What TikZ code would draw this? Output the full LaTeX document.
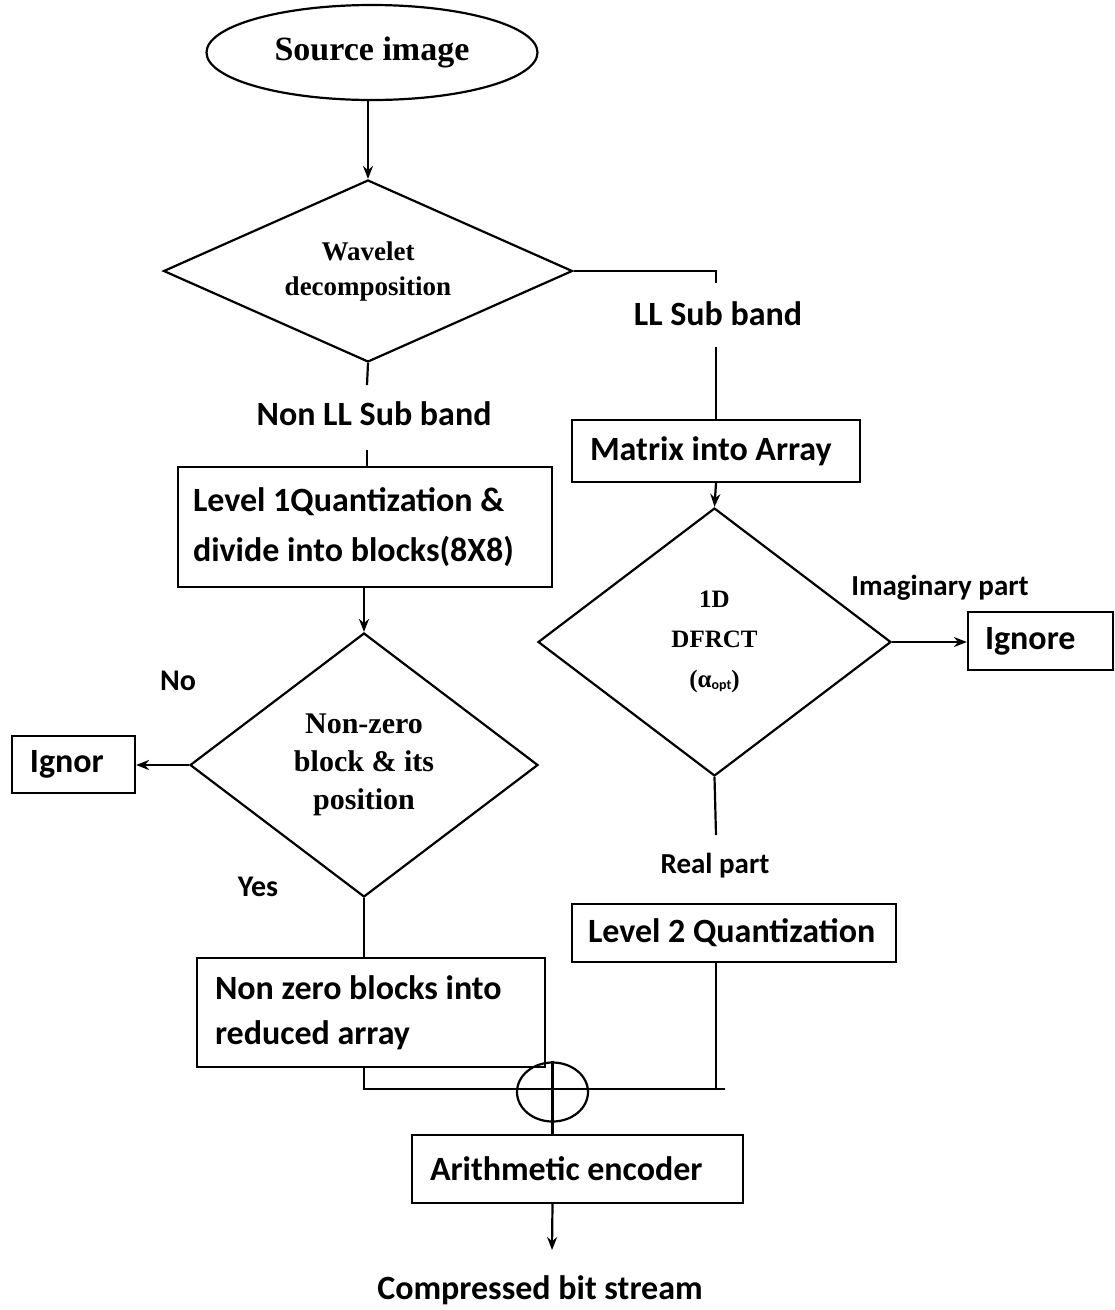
\documentclass[tikz,border=0pt]{standalone}
\usepackage{fontspec}
\setmainfont{Carlito}
\newfontfamily\serifface{Liberation Serif}
\usetikzlibrary{shapes.geometric,arrows.meta}

\newcommand\sansfs[2]{\fontsize{#1}{#2}\selectfont\bfseries}
\newcommand\seriffs[2]{\serifface\fontsize{#1}{#2}\selectfont\bfseries}

\tikzset{
  lw/.style={line width=2.2pt},
  box/.style={draw, lw, rectangle, inner sep=0pt, align=flush left},
  dia/.style={draw, lw, diamond, inner sep=0pt, align=center},
  lbl/.style={inner sep=0pt, font=\sansfs{34}{40}},
  arr/.style={lw, -{Stealth[length=13pt,width=10pt]}},
  ln/.style={lw}
}

\begin{document}
\begin{tikzpicture}[x=1pt,y=-1pt]
\useasboundingbox (0,0) rectangle (1115,1310);

% left column
\node[draw, lw, ellipse, minimum width=331pt, minimum height=95pt, inner sep=0pt,
      font=\seriffs{34}{40}] (src) at (372,52.5) {Source image};
\node[dia, aspect=2.25, minimum width=409pt, minimum height=182pt, font=\seriffs{27}{35}]
      (wav) at (368,271) {Wavelet\\decomposition};
\node[lbl] (nonll) at (374,414) {Non LL Sub band};
\node[box, minimum width=374pt, minimum height=120pt, text width=344pt,
      font=\sansfs{34}{50}] (lvl1) at (365,527)
      {Level 1Quantization \&\\divide into blocks(8X8)};
\node[dia, minimum width=348pt, minimum height=264pt, font=\seriffs{30}{38}]
      (nz) at (364,765) {Non-zero\\block \& its\\position};
\node[box, minimum width=123pt, minimum height=57pt, text width=87pt,
      font=\sansfs{34}{40}] (ignor) at (73.5,764.5) {Ignor};
\node[lbl, font=\sansfs{30}{36}] (no) at (178,681) {No};
\node[lbl, font=\sansfs{30}{36}] (yes) at (258,887) {Yes};
\node[box, minimum width=348pt, minimum height=109pt, text width=312pt,
      font=\sansfs{34}{45}] (red) at (371,1012.5)
      {Non zero blocks into\\reduced array};

% right column
\node[lbl] (ll) at (718,314) {LL Sub band};
\node[box, minimum width=288pt, minimum height=62pt, text width=252pt,
      font=\sansfs{34}{40}] (mat) at (716,451) {Matrix into Array};
\node[dia, minimum width=353pt, minimum height=268pt, font=\seriffs{25}{40}]
      (dfr) at (714.5,642)
      {1D\\DFRCT\\(α\raisebox{-2pt}{\normalfont\bfseries\fontsize{14}{14}\selectfont opt})};
\node[box, minimum width=145pt, minimum height=58pt, text width=111pt,
      font=\sansfs{34}{40}] (ign) at (1040.5,641) {Ignore};
\node[lbl, font=\sansfs{29}{34}] (imag) at (940,588) {Imaginary part};
\node[lbl, font=\sansfs{29}{34}] (real) at (715,866) {Real part};
\node[box, minimum width=324pt, minimum height=58pt, text width=292pt,
      font=\sansfs{34}{40}] (lv2) at (734,933) {Level 2 Quantization};

% merging stage
\node[draw, lw, ellipse, minimum width=71pt, minimum height=59pt, inner sep=0pt]
      (xor) at (552.5,1092) {};
\node[box, minimum width=331pt, minimum height=68pt, text width=295pt,
      font=\sansfs{34}{40}] (arith) at (577.5,1169) {Arithmetic encoder};
\node[lbl] (out) at (540,1290) {Compressed bit stream};

% free ends of the split connectors
\coordinate (llTop) at (716,283);
\coordinate (llBot) at (716,347);
\coordinate (nlTop) at (367,385);
\coordinate (nlBot) at (367,450);
\coordinate (realTop) at (716,835);
\coordinate (joinR) at (725,1089);
\coordinate (outTop) at (552,1250);

% connectors
\draw[arr] (wav.north |- src.south) -- (wav.north);
\draw[ln] (wav.east) -| (llTop);
\draw[ln] (llBot) -- (mat.north);
\draw[ln] (wav.south) -- (nlTop);
\draw[ln] (nlBot) -- (lvl1.north -| nlBot);
\draw[arr] (lvl1.south -| nz.north) -- (nz.north);
\draw[arr] (nz.west) -- (ignor.east |- nz.west);
\draw[ln] (nz.south) -- (nz.south |- red.north);
\draw[ln] (nz.south |- red.south) |- (joinR);
\draw[arr] (mat.south) -- (dfr.north);
\draw[arr] (dfr.east) -- (ign.west |- dfr.east);
\draw[ln] (dfr.south) -- (realTop);
\draw[ln] (lv2.south -| mat.south) -- (mat.south |- joinR);
\draw[ln] (xor.north) -- (xor.south);
\draw[ln] ([yshift=6pt]xor.south) -- (xor.south |- arith.north);
\draw[arr] (xor.south |- arith.south) -- (outTop);

\end{tikzpicture}
\end{document}
